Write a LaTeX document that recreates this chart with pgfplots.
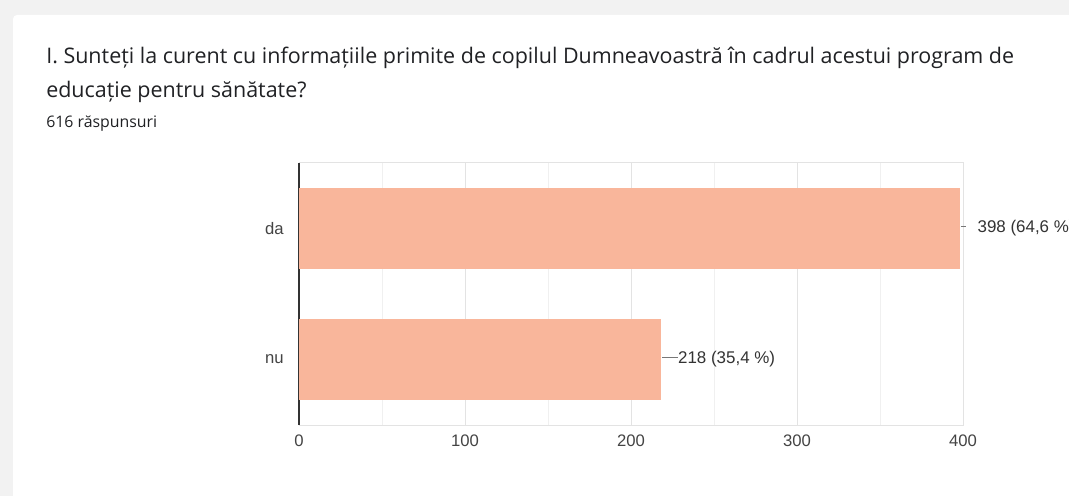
\documentclass[border=0pt]{standalone}
\usepackage{pgfplots}
\pgfplotsset{compat=1.18}
\usepackage{fontspec}
\setmainfont{Liberation Sans}
\newfontfamily\titlefont{Open Sans}
\definecolor{barc}{HTML}{F9B69B}
\definecolor{titlec}{HTML}{202124}
\definecolor{tickc}{HTML}{444444}
\definecolor{labc}{HTML}{333333}
\definecolor{linec}{HTML}{777777}
\definecolor{gridc}{HTML}{E3E3E3}
\definecolor{minorc}{HTML}{F0F0F0}
\definecolor{bgc}{HTML}{F2F2F2}
\begin{document}
\begin{tikzpicture}[x=0.75pt,y=0.75pt]
\path[use as bounding box] (0,0) rectangle (1069,496);
\fill[bgc] (0,0) rectangle (1069,496);
\fill[white, rounded corners=3pt] (13,-20) rectangle (1100,481);
\node[anchor=base west, inner sep=0pt, font=\titlefont\fontsize{16.1}{19}\selectfont, text=titlec] at (46,432) {I. Sunteți la curent cu informațiile primite de copilul Dumneavoastră în cadrul acestui program de};
\node[anchor=base west, inner sep=0pt, font=\titlefont\fontsize{16.1}{19}\selectfont, text=titlec] at (46,398) {educație pentru sănătate?};
\node[anchor=base west, inner sep=0pt, font=\titlefont\fontsize{11.9}{14}\selectfont, text=titlec] at (46,368) {616 răspunsuri};
\begin{axis}[
  at={(224.25pt,53.25pt)}, anchor=south west,
  scale only axis, width=498pt, height=196.5pt,
  xbar, bar width=0.62, bar shift=0pt,
  xmin=0, xmax=400, ymin=-0.5, ymax=1.5,
  ytick={0,1}, yticklabels={nu,da},
  xtick={0,100,200,300,400}, minor xtick={50,150,250,350},
  xmajorgrids, xminorgrids,
  major grid style={gridc, line width=0.75pt},
  minor grid style={minorc, line width=0.75pt},
  major tick length=0pt, minor tick length=0pt,
  axis line style={gridc, line width=0.75pt},
  extra x ticks={0}, extra x tick labels={},
  extra x tick style={grid=major, major grid style={labc, line width=0.9pt}},
  clip=false,
  /pgf/number format/assume math mode=true,
  tick label style={font=\fontsize{12.5}{15}\selectfont, text=tickc},
  xticklabel style={anchor=north, inner sep=0pt, yshift=-7.5pt},
  yticklabel style={anchor=east, inner sep=0pt, xshift=-11.25pt},
  nodes near coords style={anchor=west, inner sep=0pt, xshift=0.75pt, font=\fontsize{12.7}{15}\selectfont, text=labc},
]
\addplot[fill=barc, draw=none, nodes near coords={\textcolor{linec}{\rule[0.33em]{3.5pt}{0.75pt}}\hspace{9pt}398 (64,6 \%)}] coordinates {(398,1)};
\addplot[fill=barc, draw=none, nodes near coords={\textcolor{linec}{\rule[0.33em]{12pt}{0.75pt}}218 (35,4 \%)}] coordinates {(218,0)};
\end{axis}
\end{tikzpicture}
\end{document}
